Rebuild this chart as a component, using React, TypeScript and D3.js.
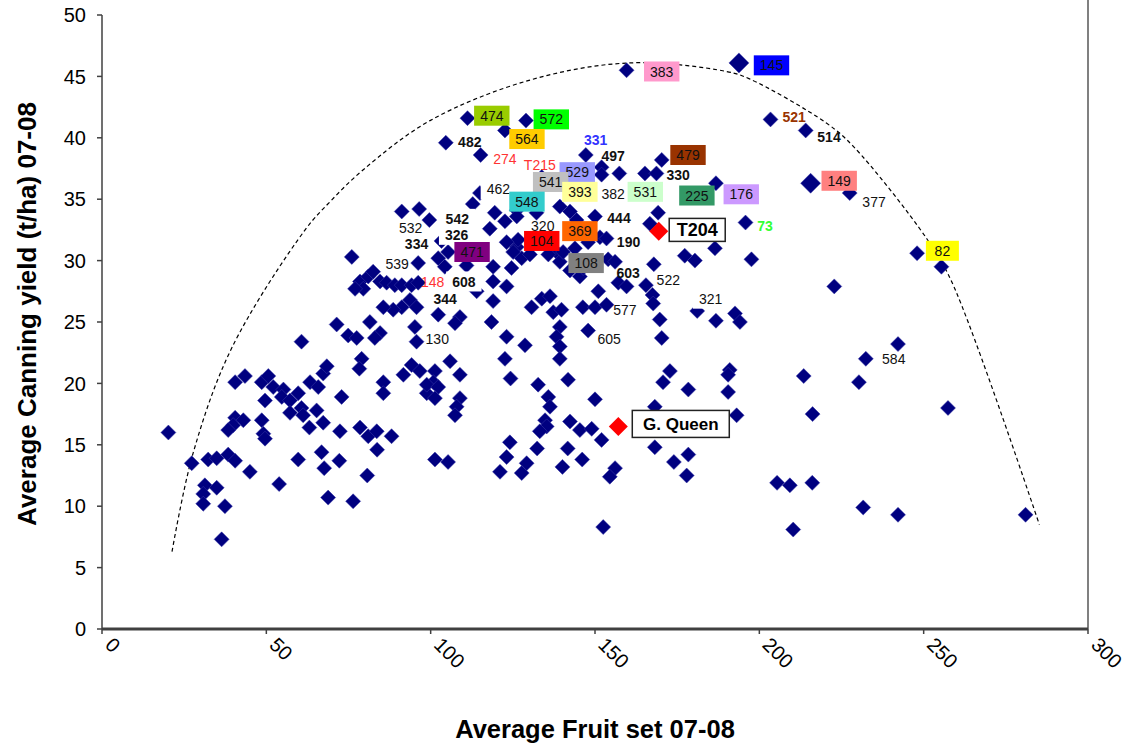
import React from 'react';
import * as d3 from 'd3';

// fruit set (x) and canning yield (y) for every seedling
const fruitSet = [
  60.7, 79.0, 78.3, 40.5, 43.5, 48.6, 50.6, 52.1, 55.2, 54.7, 57.2, 59.7, 49.6, 63.3, 65.8, 67.3, 68.4, 72.9,
  85.6, 85.6, 91.7, 94.2, 96.7, 98.8, 57.2, 60.7, 61.2, 65.3, 67.3, 63.1, 72.4, 78.5, 81.0, 83.6, 83.7, 88.1,
  40.5, 43.0, 39.9, 38.4, 48.6, 49.1, 49.6, 20.2, 27.3, 32.3, 34.9, 38.4, 40.5, 45.0, 59.7, 66.8, 72.2, 67.6,
  80.7, 31.3, 34.9, 30.8, 30.8, 37.4, 53.9, 68.8, 76.4, 36.4, 71.4, 91.2, 96.5, 99.6, 112.8, 115.0, 119.5, 118.0,
  103.3, 105.3, 102.3, 104.3, 96.2, 76.0, 110.9, 114.0, 119.0, 124.6, 126.2, 127.7, 130.2, 123.1, 119.0, 138.3,
  143.9, 142.4, 145.4, 139.3, 142.4, 126.2, 78.5, 81.0, 82.5, 79.5, 84.6, 86.6, 89.1, 91.2, 94.2, 96.2, 77.0,
  91.2, 93.7, 88.6, 95.7, 85.6, 102.3, 108.9, 107.4, 81.5, 84.6, 83.0, 74.9, 77.5, 95.2, 95.7, 105.9, 118.5,
  119.0, 123.1, 128.7, 130.7, 133.8, 136.3, 137.3, 139.3, 138.3, 139.3, 139.3, 122.6, 139.3, 146.3, 101.3, 100.8,
  98.8, 102.3, 101.3, 108.9, 108.9, 107.9, 107.4, 124.3, 132.7, 141.8, 135.8, 136.3, 150.0, 134.8, 135.3, 133.2,
  142.4, 145.4, 149.0, 152.0, 124.1, 123.1, 132.4, 141.7, 146.1, 140.1, 121.1, 129.2, 127.7, 101.3, 105.3, 156.1,
  154.5, 152.5, 168.2, 170.7, 172.8, 178.4, 168.2, 174.0, 178.4, 177.9, 222.8, 181.1, 186.8, 192.6, 194.1, 242.2,
  232.4, 191.0, 190.5, 213.5, 230.3, 190.5, 257.4, 193.1, 216.2, 205.4, 209.3, 216.1, 231.6, 242.2, 210.3, 281.0,
  203.4, 214.1, 227.5, 186.8, 195.8, 186.5, 197.6, 248.0, 255.4, 152.0, 152.0, 157.4, 165.2, 168.7, 170.3, 169.2,
  166.7, 150.0, 151.5, 153.5, 177.3, 180.4, 154.0, 156.1, 167.9, 146.4, 157.1, 159.6, 165.5, 167.5, 167.7, 151.0,
  150.0, 153.5, 169.7, 147.9, 170.3, 139.8, 159.6, 111.2, 129.0, 122.6, 104.6, 115.2, 147.2, 133.8, 122.6, 126.2,
  132.2, 144.4, 147.9, 126.6, 123.1, 125.1, 135.8, 140.3
];
const canningYield = [
  23.4, 22.0, 21.2, 20.1, 20.6, 20.1, 20.6, 19.7, 19.5, 18.9, 18.6, 19.2, 18.6, 20.1, 19.7, 20.8, 21.4, 18.9,
  20.1, 19.2, 20.7, 21.5, 21.0, 19.2, 17.6, 18.0, 17.4, 17.8, 16.8, 16.4, 16.1, 16.4, 15.7, 16.1, 14.6, 15.7,
  17.2, 17.0, 16.6, 16.2, 17.0, 15.9, 15.5, 16.0, 13.5, 13.8, 13.9, 14.2, 13.7, 12.8, 13.8, 14.4, 13.7, 13.1,
  12.5, 11.7, 11.5, 11.0, 10.2, 10.0, 11.8, 10.7, 10.4, 7.3, 24.8, 34.0, 34.2, 33.3, 34.6, 35.5, 33.9, 32.6,
  31.6, 30.7, 30.2, 29.5, 29.8, 30.3, 29.6, 27.5, 29.5, 29.4, 31.1, 30.2, 30.5, 27.9, 28.3, 30.7,
  31.0, 29.2, 28.7, 34.4, 34.0, 34.1, 28.3, 28.7, 29.1, 27.7, 28.3, 28.2, 28.0, 28.0, 28.0, 28.2, 27.7,
  26.2, 26.8, 26.0, 26.2, 26.2, 25.6, 25.4, 24.9, 25.0, 24.1, 23.7, 23.9, 23.7, 24.6, 23.4, 21.8, 25.0,
  26.7, 23.8, 23.1, 26.2, 26.9, 27.1, 25.8, 24.6, 23.8, 23.0, 22.0, 22.0, 29.9, 26.2, 21.0, 20.1,
  19.9, 19.7, 18.8, 20.7, 18.8, 18.1, 17.4, 20.4, 19.9, 20.3, 18.9, 18.1, 18.7, 17.0, 16.5, 16.1,
  16.9, 16.2, 16.3, 15.4, 15.2, 14.0, 14.7, 14.7, 13.8, 13.2, 12.8, 13.5, 12.7, 13.8, 13.6, 13.1,
  12.4, 8.3, 18.1, 20.1, 21.0, 19.5, 14.8, 13.6, 14.2, 12.5, 27.9, 25.9, 25.1, 25.7, 25.0, 23.2,
  22.0, 21.1, 20.7, 20.6, 20.1, 19.3, 18.0, 17.4, 17.5, 11.9, 11.7, 11.9, 9.9, 9.3, 8.1, 9.3,
  41.5, 40.6, 35.5, 36.3, 33.1, 31.0, 30.1, 30.6, 29.5, 37.6, 37.0, 37.1, 37.1, 37.1, 38.2, 33.9,
  33.0, 33.6, 31.9, 31.8, 30.4, 30.0, 30.1, 29.9, 29.7, 29.4, 28.2, 27.9, 28.0, 27.2, 26.5, 27.5,
  26.2, 26.4, 25.2, 24.3, 23.7, 26.0, 45.5, 41.6, 41.4, 40.6, 39.6, 38.6, 38.6, 36.8, 33.2, 33.6,
  33.9, 33.3, 31.5, 31.7, 31.5, 30.7, 30.5, 30.7
];

// two seedlings drawn with a larger marker
const bigX = [193.8, 215.6];
const bigY = [46.1, 36.3];

// reference cultivars
const refNames = ['T204', 'G. Queen'];
const refX = [169.4, 157.1];
const refY = [32.4, 16.5];

// envelope drawn by hand round the cloud
const envX = [21.3, 27.7, 39.5, 61.8, 69.4, 79.5, 99.8, 130.2, 160.6, 190, 197, 220.4, 228.6, 250.9, 258.5, 285.2];
const envY = [6.3, 14.3, 22.9, 32.5, 34.8, 37.4, 41.4, 44.7, 46.1, 45.4, 44.8, 41.2, 39.3, 31.8, 28.3, 8.5];

// seedling labels and where they sit
const labelText = [
  '383', '474', '572', '564', '482', '274', '331', 'T215', '497', '479', '529', '541', '393', '382', '531',
  '330', '225', '462', '548', '542', '326', '320', '104', '369', '444', '190', '471', '108', '532', '334',
  '539', '148', '608', '344', '130', '603', '522', '577', '605', '321', '176', '73', '145', '521', '514',
  '149', '377', '82', '584'
];
const labelX = [
  170.3, 118.6, 136.7, 129.3, 111.9, 122.6, 150.2, 133.2, 155.5, 178.3, 144.6, 136.5, 145.4, 155.5, 165.3,
  175.3, 181.0, 120.6, 129.3, 108.1, 107.9, 134.1, 133.8, 145.4, 157.3, 160.2, 112.6, 147.3, 93.9, 95.7,
  89.8, 100.6, 110.1, 104.4, 102.0, 160.1, 172.3, 159.1, 154.3, 185.2, 194.5, 201.7, 203.7, 210.6, 221.2,
  224.3, 234.9, 255.7, 240.9
];
const labelY = [
  45.4, 41.8, 41.5, 39.9, 39.7, 38.3, 39.8, 37.8, 38.5, 38.6, 37.2, 36.4, 35.6, 35.4, 35.6,
  37.0, 35.3, 35.8, 34.8, 33.4, 32.1, 32.8, 31.6, 32.4, 33.5, 31.5, 30.7, 29.8, 32.65, 31.35,
  29.7, 28.3, 28.3, 26.9, 23.6, 29.0, 28.4, 26.0, 23.6, 26.9, 35.4, 32.8, 45.9, 41.7, 40.1,
  36.5, 34.8, 30.8, 22.0
];
const refLabelX = [181.1, 176.1];
const refLabelY = [32.5, 16.7];

const boxFill: Record<string, string> = {
  '383': '#ff99cc', '474': '#99cc00', '572': '#00ff00', '564': '#ffcc00', '479': '#993300',
  '529': '#9999ff', '541': '#c0c0c0', '393': '#ffff99', '531': '#ccffcc', '225': '#339966',
  '548': '#33cccc', '104': '#ff0000', '369': '#ff6600', '471': '#800080', '108': '#808080',
  '176': '#cc99ff', '145': '#0000ff', '149': '#ff8080', '82': '#ffff00',
  '542': '#ffffff', '326': '#ffffff', '608': '#ffffff', '321': '#ffffff', '462': '#ffffff'
};
const textFill: Record<string, string> = {
  '274': '#ff3333', 'T215': '#ff3333', '148': '#ff3333', '331': '#3333ff', '521': '#993300', '73': '#33ff33'
};
const boldLabels = ['482', '497', '330', '542', '326', '444', '190', '334', '608', '344', '603', '331', '521', '514', '73'];

const W = 1140;
const H = 746;
const left = 102;
const right = 1088;
const top = 15;
const bottom = 629;
const font = 'Arial, "Liberation Sans", sans-serif';

const diamond = (r: number) => `M0,${-r}L${r},0L0,${r}L${-r},0Z`;

export default function App() {
  const x = d3.scaleLinear().domain([0, 300]).range([left, right]);
  const y = d3.scaleLinear().domain([0, 50]).range([bottom, top]);

  const envelope = d3
    .line<number>()
    .x((d) => x(envX[d]))
    .y((d) => y(envY[d]))
    .curve(d3.curveCatmullRom.alpha(0.5))(envX.map((_, i) => i));

  const points = fruitSet.map((v, i) => [v, canningYield[i]]);

  return (
    <svg width={W} height={H} style={{ position: 'absolute', left: 0, top: 0, background: '#fff' }} fontFamily={font}>
      {/* right border */}
      <line x1={right} x2={right} y1={0} y2={bottom} stroke="#808080" strokeWidth={2} />

      {/* envelope */}
      <path d={envelope ?? ''} fill="none" stroke="#000" strokeWidth={1.2} strokeDasharray="4,3" />

      {/* seedlings */}
      <g fill="#000080" stroke="#3a3aa8" strokeWidth={0.5}>
        {points.map((p, i) => (
          <path key={i} d={diamond(7.5)} transform={`translate(${x(p[0])},${y(p[1])})`} />
        ))}
        {bigX.map((v, i) => (
          <path key={'b' + i} d={diamond(10)} transform={`translate(${x(v)},${y(bigY[i])})`} />
        ))}
      </g>

      {/* seedling labels */}
      {labelText.map((t, i) => {
        const cx = x(labelX[i]);
        const cy = y(labelY[i]);
        const w = Math.max(33, t.length * 7.8 + 12);
        const bold = boldLabels.includes(t);
        return (
          <g key={'l' + t} transform={`translate(${cx},${cy})`}>
            {boxFill[t] && <rect x={-w / 2} y={-10} width={w} height={20} fill={boxFill[t]} />}
            <text
              textAnchor="middle"
              dy="0.36em"
              fontSize={14}
              fontWeight={bold ? 'bold' : 'normal'}
              fill={textFill[t] ?? '#111'}
            >
              {t}
            </text>
          </g>
        );
      })}

      {/* reference cultivars */}
      {refNames.map((n, i) => (
        <path key={'r' + n} d={diamond(9.5)} fill="#ff0000" transform={`translate(${x(refX[i])},${y(refY[i])})`} />
      ))}
      {refNames.map((n, i) => {
        const w = n.length > 4 ? 97 : 56;
        const h = n.length > 4 ? 27 : 23;
        return (
          <g key={'rl' + n} transform={`translate(${x(refLabelX[i])},${y(refLabelY[i])})`}>
            <rect x={-w / 2} y={-h / 2} width={w} height={h} fill="#fff" stroke="#222" strokeWidth={1.5} />
            <text textAnchor="middle" dy="0.36em" fontSize={n.length > 4 ? 17 : 18} fontWeight="bold" fill="#000">
              {n}
            </text>
          </g>
        );
      })}

      {/* y axis */}
      <line x1={left} x2={left} y1={top} y2={bottom} stroke="#404040" strokeWidth={1.5} />
      {y.ticks(10).map((t) => (
        <g key={'y' + t} transform={`translate(0,${y(t)})`}>
          <line x1={left - 5} x2={left} stroke="#404040" strokeWidth={1.5} />
          <text x={86} textAnchor="end" dy="0.36em" fontSize={20} fill="#000">
            {t}
          </text>
        </g>
      ))}

      {/* x axis */}
      <line x1={left} x2={right} y1={bottom} y2={bottom} stroke="#404040" strokeWidth={3} />
      {x.ticks(6).map((t) => (
        <g key={'x' + t}>
          <line x1={x(t)} x2={x(t)} y1={bottom} y2={bottom + 5} stroke="#404040" strokeWidth={1.5} />
          <text transform={`translate(${x(t) + 2},${bottom + 17}) rotate(45)`} fontSize={20} fill="#000">
            {t}
          </text>
        </g>
      ))}

      {/* axis titles */}
      <text x={(left + right) / 2} y={738} textAnchor="middle" fontSize={25.5} fontWeight="bold" fill="#000">
        Average Fruit set 07-08
      </text>
      <text
        transform={`translate(36,${(top + bottom) / 2 - 8}) rotate(-90)`}
        textAnchor="middle"
        fontSize={26}
        fontWeight="bold"
        fill="#000"
      >
        Average Canning yield (t/ha) 07-08
      </text>
    </svg>
  );
}
